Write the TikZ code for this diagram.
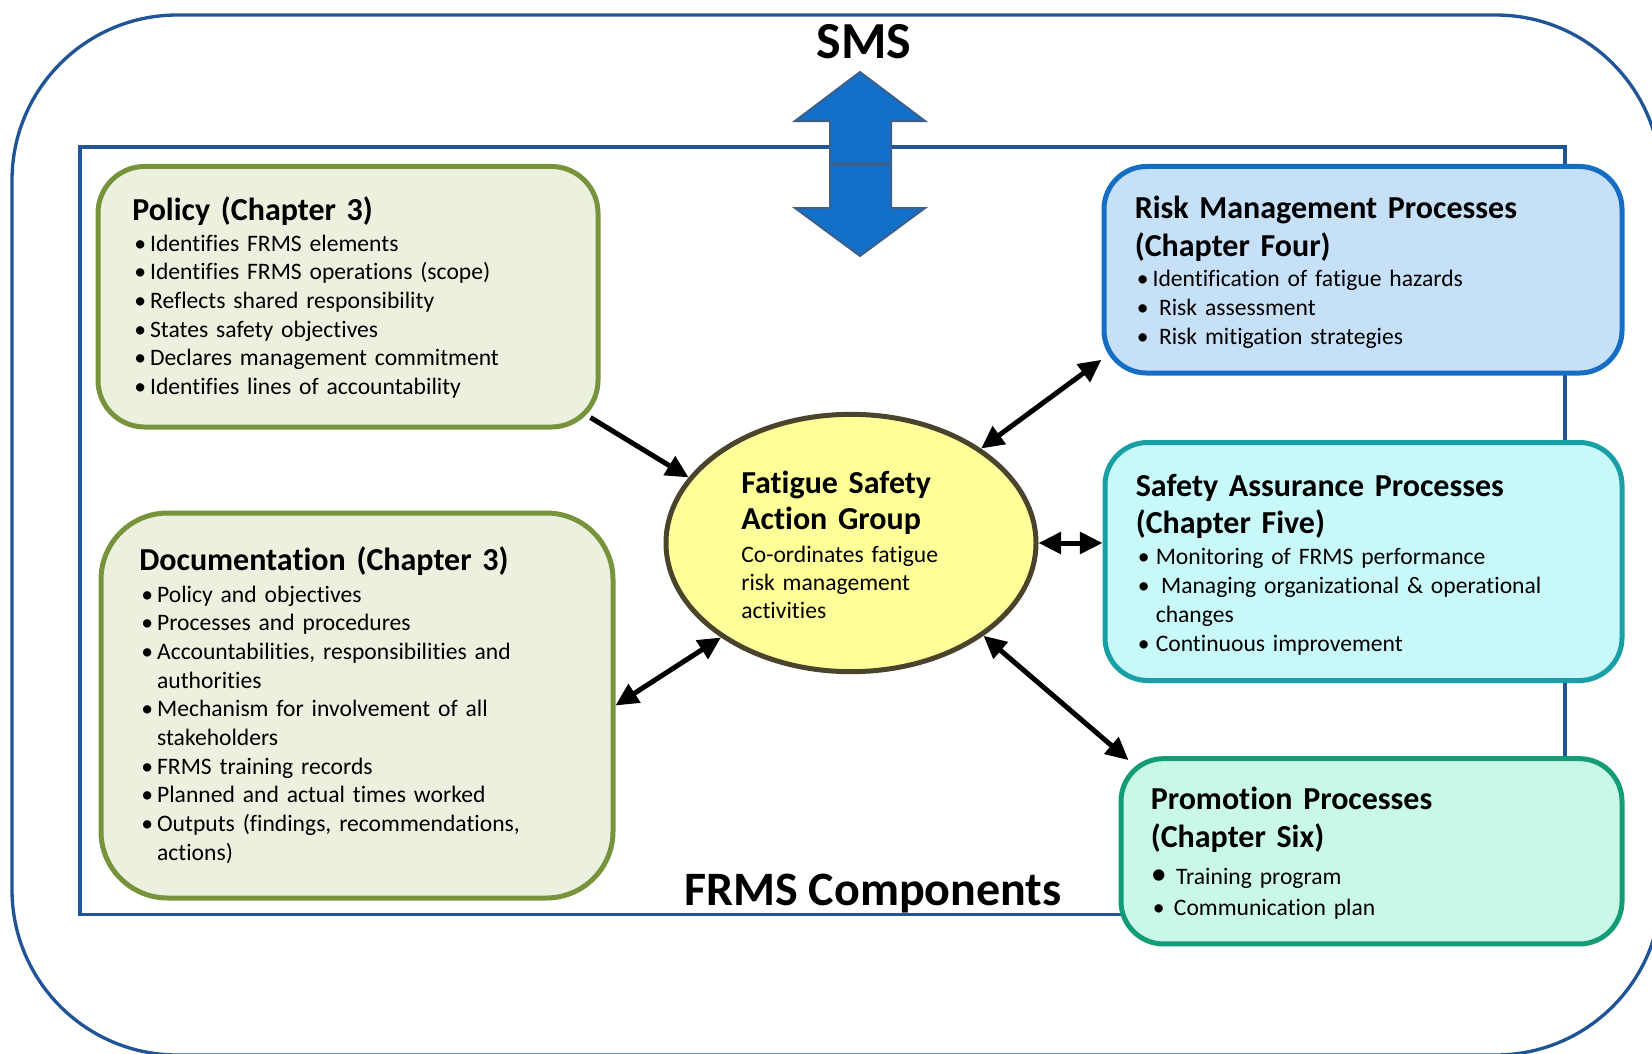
\documentclass[tikz,border=0pt]{standalone}
\usepackage{fontspec}
\setmainfont{Carlito}[Ligatures=NoCommon]
\usetikzlibrary{shapes.geometric,arrows.meta}
\definecolor{smsblue}{RGB}{31,85,150}
\definecolor{olivedge}{RGB}{119,147,60}
\definecolor{olivefill}{RGB}{235,241,222}
\definecolor{riskedge}{RGB}{22,110,196}
\definecolor{riskfill}{RGB}{198,224,248}
\definecolor{safeedge}{RGB}{24,160,166}
\definecolor{safefill}{RGB}{200,248,248}
\definecolor{promoedge}{RGB}{20,156,118}
\definecolor{promofill}{RGB}{202,248,232}
\definecolor{fsagfill}{RGB}{255,255,153}
\definecolor{fsagedge}{RGB}{74,68,44}
\definecolor{bigarrow}{RGB}{18,112,200}
\definecolor{bigarrowedge}{RGB}{60,95,140}
\newcommand{\itm}[2][13.4pt]{\makebox[#1][l]{\hspace{1.6pt}\textbullet}#2\par}
\newcommand{\cnt}[2][13.4pt]{\hspace*{#1}#2\par}

\begin{document}
\begin{tikzpicture}[x=0.75pt,y=-0.75pt,
    comp/.style={rectangle, line width=3.75pt},
    ttl/.style={anchor=base west, inner sep=0pt, text width=340pt, align=left,
      font=\fontsize{24pt}{28pt}\selectfont\bfseries},
    lst/.style={anchor=base west, inner sep=0pt, text width=340pt, align=left,
      font=\fontsize{17.7pt}{21.5pt}\selectfont},
    link/.style={line width=3.75pt, {Triangle[length=17pt,width=16pt]}-{Triangle[length=17pt,width=16pt]}},
    onelink/.style={line width=3.75pt, -{Triangle[length=17pt,width=16pt]}}]
  \useasboundingbox (0,0) rectangle (1652,1053);
  \clip (0,0) rectangle (1652,1053);
  \draw[smsblue, line width=2.5pt, rounded corners=124pt] (12,15) rectangle (1661,1055);
  \draw[smsblue, line width=2.5pt] (80,147) rectangle (1565,914.5);

  \node[comp, draw=olivedge, fill=olivefill, rounded corners=35pt, minimum width=375pt,
        minimum height=195.4pt] (policy) at (348,296.75) {};
  \node[ttl] (policyttl) at (132,220) {Policy (Chapter 3)};
  \node[lst] (policylst) at (132,251)
    {\itm{Identifies FRMS elements}
     \itm{Identifies FRMS operations (scope)}
     \itm{Reflects shared responsibility}
     \itm{States safety objectives}
     \itm{Declares management commitment}
     \itm{Identifies lines of accountability}};

  \node[comp, draw=olivedge, fill=olivefill, rounded corners=50pt, minimum width=384pt,
        minimum height=288.75pt] (doc) at (357,705.5) {};
  \node[ttl] (docttl) at (139,570.7) {Documentation (Chapter 3)};
  \node[lst] (doclst) at (139,602.3)
    {\itm{Policy and objectives}
     \itm{Processes and procedures}
     \itm{Accountabilities, responsibilities and}
     \cnt{authorities}
     \itm{Mechanism for involvement of all}
     \cnt{stakeholders}
     \itm{FRMS training records}
     \itm{Planned and actual times worked}
     \itm{Outputs (findings, recommendations,}
     \cnt{actions)}};

  \node[comp, draw=riskedge, fill=riskfill, rounded corners=32pt, minimum width=388.5pt,
        minimum height=154.9pt] (risk) at (1363,269.75) {};
  \node[ttl] (riskttl) at (1134.5,218.7) {Risk Management Processes\\(Chapter Four)};
  \node[lst, font=\fontsize{17.7pt}{22pt}\selectfont] (risklst) at (1134.5,286)
    {\itm{Identification of fatigue hazards}
     \itm[18.2pt]{Risk assessment}
     \itm[18.2pt]{Risk mitigation strategies}};

  \node[comp, draw=safeedge, fill=safefill, rounded corners=32pt, minimum width=387.75pt,
        minimum height=178.5pt] (safety) at (1363.5,561.5) {};
  \node[ttl, font=\fontsize{24pt}{27.6pt}\selectfont\bfseries] (safetyttl) at (1135.5,496.3)
    {Safety Assurance Processes\\(Chapter Five)};
  \node[lst, font=\fontsize{17.7pt}{21.8pt}\selectfont] (safetylst) at (1135.5,564)
    {\itm[15pt]{Monitoring of FRMS performance}
     \itm[19pt]{Managing organizational \& operational}
     \cnt[15pt]{changes}
     \itm[15pt]{Continuous improvement}};

  \node[comp, draw=promoedge, fill=promofill, rounded corners=32pt, minimum width=375.75pt,
        minimum height=139pt] (promo) at (1371.5,851.3) {};
  \node[ttl, font=\fontsize{24pt}{28.8pt}\selectfont\bfseries] (promottl) at (1150.5,809.5)
    {Promotion Processes\\(Chapter Six)};
  \node[lst, font=\fontsize{17.7pt}{23.25pt}\selectfont] (promolst) at (1150.5,884)
    {\makebox[19pt][l]{\fontsize{24pt}{24pt}\selectfont\textbullet}Training program\par
     \itm[17.4pt]{Communication plan}};

  \node[ellipse, draw=fsagedge, fill=fsagfill, line width=3.75pt, minimum width=277.5pt,
        minimum height=193pt] (fsag) at (851,543) {};
  \node[ttl, text width=170pt, font=\fontsize{24pt}{27.5pt}\selectfont\bfseries] (fsagttl)
    at (741,493.3) {Fatigue Safety\\Action Group};
  \node[lst, text width=170pt, font=\fontsize{17.7pt}{20.9pt}\selectfont] (fsaglst)
    at (741,562.7) {Co-ordinates fatigue\par risk management\par activities};

  \draw[onelink] ([shift={(-10,-12)}]policy.south east) -- (fsag.158);
  \draw[link] (doc.east) -- (fsag.-144);
  \draw[link] (fsag.36) -- (risk.199);
  \draw[link] (fsag.east) -- (fsag.east -| safety.west);
  \draw[link] (fsag.-35) -- ([shift={(10,4)}]promo.north west);

  \draw[fill=bigarrow, draw=bigarrowedge, line width=1.5pt] (860,72) -- (925,121) -- (891,121)
    -- (891,208) -- (925,208) -- (860,256) -- (795,208) -- (830,208) -- (830,121)
    -- (795,121) -- cycle;
  \draw[bigarrowedge, line width=3pt] (830,164) -- (891,164);

  \node[font=\fontsize{39pt}{44pt}\selectfont\bfseries] (sms) at (864,42) {SMS};
  \node[anchor=base, inner sep=0pt, font=\fontsize{36pt}{42pt}\selectfont\bfseries] (frms)
    at (873,905) {FRMS Components};
\end{tikzpicture}
\end{document}
